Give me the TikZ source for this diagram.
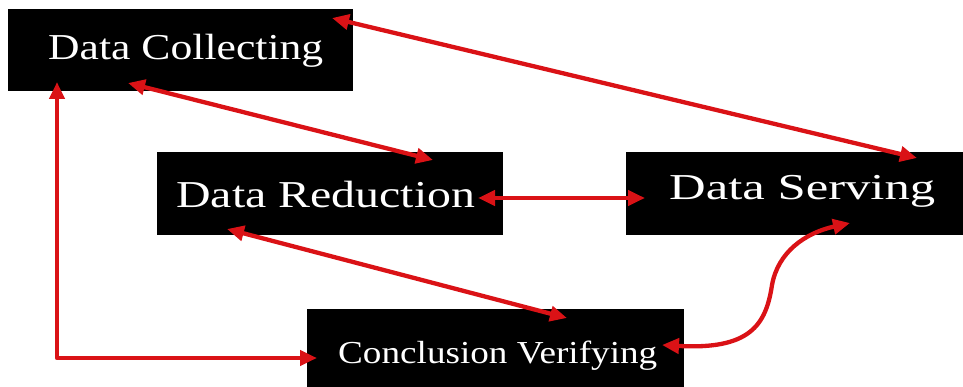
\documentclass[tikz,border=0pt]{standalone}
\usepackage{fontspec}
\setmainfont{Liberation Serif}
\usetikzlibrary{arrows.meta}
\definecolor{arrred}{RGB}{218,18,22}
\tikzset{
  box/.style={rectangle, fill=black, draw=none, inner sep=0pt},
  lbl/.style={anchor=base west, inner sep=0pt, text=white},
  link/.style={draw=arrred, line width=4.3pt, line join=round,
    {Triangle[length=17pt,width=15pt]}-{Triangle[length=17pt,width=15pt]}}
}
\begin{document}
\begin{tikzpicture}[x=1pt,y=-1pt]
\useasboundingbox (0,0) rectangle (963,387);
% boxes
\node[box, minimum width=345pt, minimum height=82pt] (dc) at (180.5,50) {};
\node[box, minimum width=346pt, minimum height=83pt] (dr) at (330,193.5) {};
\node[box, minimum width=337pt, minimum height=83pt] (ds) at (794.5,193.5) {};
\node[box, minimum width=377pt, minimum height=78pt] (cv) at (495.5,348) {};
% texts
\node[lbl] (dct) at (48,60) {\fontsize{36.5pt}{40pt}\selectfont\resizebox{275pt}{\height}{Data Collecting}};
\node[lbl] (drt) at (176,208) {\fontsize{38pt}{42pt}\selectfont\resizebox{299pt}{\height}{Data Reduction}};
\node[lbl] (dst) at (669,200) {\fontsize{36.5pt}{40pt}\selectfont\resizebox{266pt}{\height}{Data Serving}};
\node[lbl] (cvt) at (338,363) {\fontsize{32pt}{35pt}\selectfont\resizebox{319pt}{\height}{Conclusion Verifying}};
% connectors
\draw[link] ([shift={(151.5,-32)}]dc.center) -- ([shift={(122.5,-35.5)}]ds.center);
\draw[link] ([shift={(-52.5,33)}]dc.center) -- ([shift={(103,-33.5)}]dr.center);
\draw[link] ([shift={(148,4.5)}]dr.center) -- ([shift={(-149.5,4.5)}]ds.center);
\draw[link] ([shift={(-103,35.5)}]dr.center) -- ([shift={(71.5,-30)}]cv.center);
\draw[link] ([shift={(-123.5,32)}]dc.center) |- ([shift={(-178.5,10)}]cv.center);
\draw[link] ([shift={(55.5,29.5)}]ds.center) .. controls (805,233) and (778,252) .. (772,285) .. controls (766,325) and (750,350) .. ([shift={(166.5,-3)}]cv.center);
\end{tikzpicture}
\end{document}
